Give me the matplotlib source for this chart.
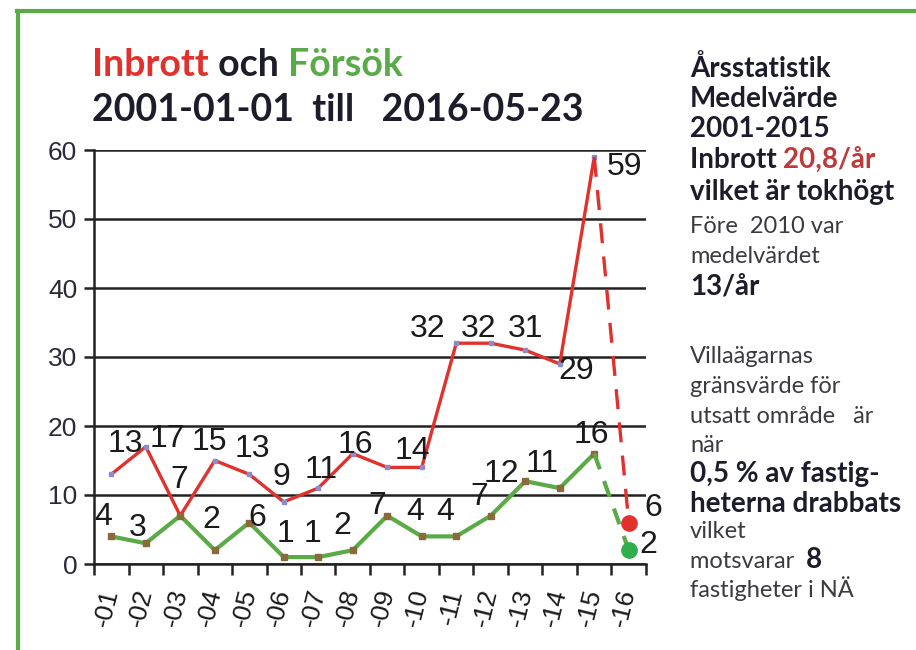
import matplotlib
matplotlib.use("Agg")
import matplotlib.pyplot as plt
from matplotlib.lines import Line2D

# data
years = ["-01", "-02", "-03", "-04", "-05", "-06", "-07", "-08",
         "-09", "-10", "-11", "-12", "-13", "-14", "-15", "-16"]
inbrott = [13, 17, 7, 15, 13, 9, 11, 16, 14, 14, 32, 32, 31, 29, 59, 6]
forsok = [4, 3, 7, 2, 6, 1, 1, 2, 7, 4, 4, 7, 12, 11, 16, 2]

# label offsets in pixels (None = no label)
off_inbrott = [(14, 30), (22, 8), (-1, 36), (-5, 18), (3, 25), (-2, 25), (3, 18), (3, 9),
               None, (-9, 16), (-29, 14), (-12, 14), (0, 21), (16, -7), (30, -10), (25, 15)]
off_forsok = [(-8, 19), (-8, 15), None, (-3, 30), (8, 5), (2, 23), (-6, 23), (-10, 24),
              (-10, 10), (-7, 24), (-11, 24), (-11, 19), (-24, 7), (-18, 24), (-3, 19), (20, 5)]

RED = "#e2312d"
GREEN = "#5aab47"
DARK = "#1c1c2a"
GREY = "#3a3a40"

plt.rcParams['font.family'] = ['Liberation Sans', 'DejaVu Sans']

fig = plt.figure(figsize=(9.16, 6.5), dpi=100)
ax = fig.add_axes([94 / 916, 1 - 564 / 650, (646 - 94) / 916, (564 - 150) / 650])

x = list(range(len(years)))
n = len(years) - 1  # last point drawn dashed

for v in range(0, 70, 10):
    ax.axhline(v, color="#222222", lw=1.8, zorder=1)

ax.plot(x[:n], inbrott[:n], color=RED, lw=2.4, marker="s", ms=3,
        mfc="#8c8cc8", mec="#8c8cc8", zorder=3)
ax.plot(x[n - 1:], inbrott[n - 1:], color=RED, lw=2.4, ls=(0, (6, 4)), zorder=3)
ax.plot(x[:n], forsok[:n], color=GREEN, lw=3, marker="s", ms=4,
        mfc="#8a6a3a", mec="#8a6a3a", zorder=3)
ax.plot(x[n - 1:], forsok[n - 1:], color=GREEN, lw=3, ls=(0, (4, 3)), zorder=3)
ax.plot(x[n], inbrott[n], "o", color=RED, ms=11, zorder=4)
ax.plot(x[n], forsok[n], "o", color="#2fae4c", ms=11, zorder=4)

for xi, v, off in zip(x, inbrott, off_inbrott):
    if off:
        ax.annotate(str(v), (xi, v), xytext=off, textcoords="offset pixels",
                    ha="center", va="center", fontsize=23, color="#1a1a1a", zorder=5)
for xi, v, off in zip(x, forsok, off_forsok):
    if off:
        ax.annotate(str(v), (xi, v), xytext=off, textcoords="offset pixels",
                    ha="center", va="center", fontsize=23, color="#1a1a1a", zorder=5)

ax.set_xlim(-0.5, len(years) - 0.5)
ax.set_ylim(0, 60)
ax.set_yticks(range(0, 70, 10))
ax.tick_params(axis="y", direction="out", length=7, width=1.8, color="#222222",
               labelsize=19, labelcolor="#2a2a3a", pad=5)
ax.set_xticks(x)
ax.set_xticklabels(years, rotation=76, ha="right", va="center",
                   rotation_mode="anchor", fontsize=19, color="#1a1a1a")
ax.set_xticks([i - 0.5 for i in range(len(years) + 1)], minor=True)
ax.tick_params(axis="x", which="major", length=0, pad=18)
ax.tick_params(axis="x", which="minor", direction="out", length=8, width=1.8, color="#222222")
for s in ["top", "right"]:
    ax.spines[s].set_visible(False)
ax.spines["left"].set_linewidth(1.8)
ax.spines["bottom"].set_linewidth(1.8)
ax.spines["left"].set_color("#222222")
ax.spines["bottom"].set_color("#222222")

# green frame (top and left)
fig.add_artist(Line2D([17 / 916, 1], [1 - 11 / 650, 1 - 11 / 650], color=GREEN, lw=3))
fig.add_artist(Line2D([18 / 916, 18 / 916], [0, 1 - 11 / 650], color=GREEN, lw=3))

renderer = fig.canvas.get_renderer()


def rich_line(px, py, parts, size):
    # parts: (text, weight, color), drawn one after another on a baseline
    xx = px
    for txt, w, c in parts:
        fs = size if w == "bold" else size - 3
        t = fig.text(xx / 916, 1 - py / 650, txt, fontsize=fs, fontweight=w,
                     color=c, family="Lato", va="baseline", ha="left")
        xx += t.get_window_extent(renderer).width


rich_line(92, 76, [("Inbrott", "bold", RED), (" och ", "bold", DARK),
                   ("Försök", "bold", GREEN)], 27)
rich_line(92, 121, [("2001-01-01  till   2016-05-23", "bold", DARK)], 27)

side = [
    (77, [("Årsstatistik", "bold", DARK)]),
    (107, [("Medelvärde", "bold", DARK)]),
    (137, [("2001-2015", "bold", DARK)]),
    (168, [("Inbrott ", "bold", DARK), ("20,8/år", "bold", "#c0393a")]),
    (200, [("vilket är tokhögt", "bold", DARK)]),
    (233, [("Före  2010 var", "normal", GREY)]),
    (263, [("medelvärdet", "normal", GREY)]),
    (295, [("13/år", "bold", DARK)]),
    (363, [("Villaägarnas", "normal", GREY)]),
    (393, [("gränsvärde för", "normal", GREY)]),
    (423, [("utsatt område   är", "normal", GREY)]),
    (452, [("när", "normal", GREY)]),
    (482, [("0,5 % av fastig-", "bold", DARK)]),
    (512, [("heterna drabbats", "bold", DARK)]),
    (538, [("vilket", "normal", GREY)]),
    (568, [("motsvarar  ", "normal", GREY), ("8", "bold", DARK)]),
    (597, [("fastigheter i NÄ", "normal", GREY)]),
]
for py, parts in side:
    rich_line(690, py, parts, 20)

fig.savefig("out.png", dpi=100)
